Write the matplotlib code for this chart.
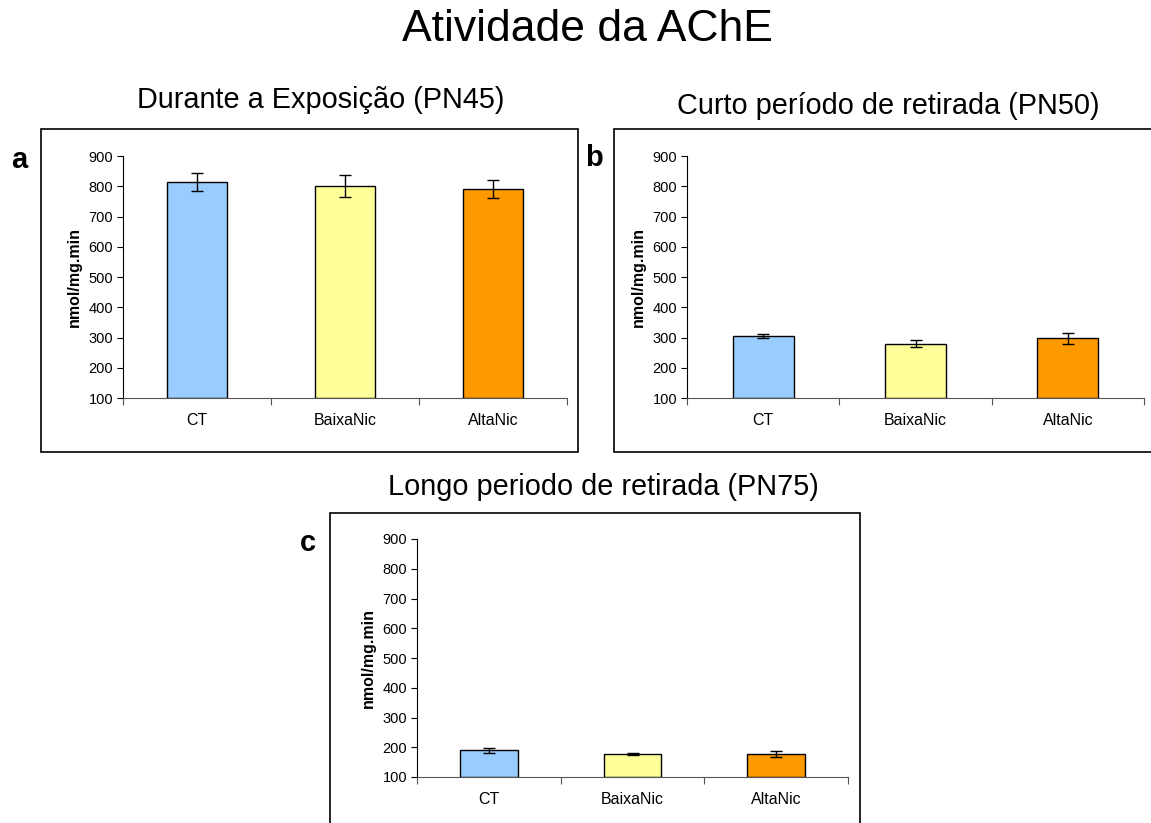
import matplotlib.pyplot as plt
from matplotlib.patches import Rectangle

plt.rcParams['font.family'] = ['Liberation Sans', 'DejaVu Sans']

# data
groups = ['CT', 'BaixaNic', 'AltaNic']
colors = ['#99CCFF', '#FFFF99', '#FF9900']

pn45_mean = [815, 800, 792]
pn45_err = [30, 36, 30]
pn50_mean = [305, 280, 297]
pn50_err = [8, 13, 17]
pn75_mean = [190, 177, 177]
pn75_err = [8, 4, 9]

yticks = [100, 200, 300, 400, 500, 600, 700, 800, 900]

W, H = 1151, 823
fig = plt.figure(figsize=(W / 100, H / 100), dpi=100)


def px(x0, y0, x1, y1):
    # pixel box -> figure fraction [left, bottom, width, height]
    return [x0 / W, 1 - y1 / H, (x1 - x0) / W, (y1 - y0) / H]


def panel(rect, means, errs):
    ax = fig.add_axes(rect)
    xs = [0.5, 1.5, 2.5]
    ax.bar(xs, [m - 100 for m in means], bottom=100, width=0.4,
           color=colors, edgecolor='black', linewidth=1.0, zorder=2)
    ax.errorbar(xs, means, yerr=errs, fmt='none', ecolor='black',
                elinewidth=1.0, capsize=4, capthick=1.0, zorder=3)
    ax.set_xlim(0, 3)
    ax.set_ylim(100, 900)
    ax.set_yticks(yticks)
    ax.set_yticklabels([str(v) for v in yticks], fontsize=10.5)
    ax.set_xticks([0, 1, 2, 3])
    ax.set_xticklabels([])
    ax.set_xticks(xs, minor=True)
    ax.set_xticklabels(groups, minor=True, fontsize=11.5)
    ax.tick_params(axis='x', which='minor', length=0, pad=11)
    ax.tick_params(axis='x', which='major', length=5, direction='out', color='#555555')
    ax.tick_params(axis='y', length=4, direction='out', pad=3)
    for s in ['top', 'right']:
        ax.spines[s].set_visible(False)
    ax.spines['left'].set_color('black')
    ax.spines['bottom'].set_color('#555555')
    ax.set_ylabel('nmol/mg.min', fontsize=11.5, fontweight='bold', labelpad=5)
    return ax


# frames around each panel
for (x0, y0, x1, y1) in [(41, 129, 578, 452), (614, 129, 1152, 452), (330, 513, 860, 830)]:
    fig.patches.append(Rectangle((x0 / W, 1 - y1 / H), (x1 - x0) / W, (y1 - y0) / H,
                                 transform=fig.transFigure, fill=False,
                                 edgecolor='black', linewidth=1.2))

panel(px(123, 156, 567, 398), pn45_mean, pn45_err)
panel(px(687, 156, 1144, 398), pn50_mean, pn50_err)
panel(px(417, 539, 848, 777), pn75_mean, pn75_err)

fig.text(587 / W, 1 - 41 / H, 'Atividade da AChE', fontsize=32, ha='center', va='baseline')
fig.text(321 / W, 1 - 108 / H, 'Durante a Exposição (PN45)', fontsize=20.8, ha='center', va='baseline')
fig.text(888 / W, 1 - 114 / H, 'Curto período de retirada (PN50)', fontsize=20.8, ha='center', va='baseline')
fig.text(603 / W, 1 - 495 / H, 'Longo periodo de retirada (PN75)', fontsize=20.8, ha='center', va='baseline')

fig.text(19 / W, 1 - 160 / H, 'a', fontsize=21, fontweight='bold', ha='center', va='center')
fig.text(594 / W, 1 - 158 / H, 'b', fontsize=21, fontweight='bold', ha='center', va='center')
fig.text(308 / W, 1 - 543 / H, 'c', fontsize=21, fontweight='bold', ha='center', va='center')

fig.savefig('out.png', dpi=100)
